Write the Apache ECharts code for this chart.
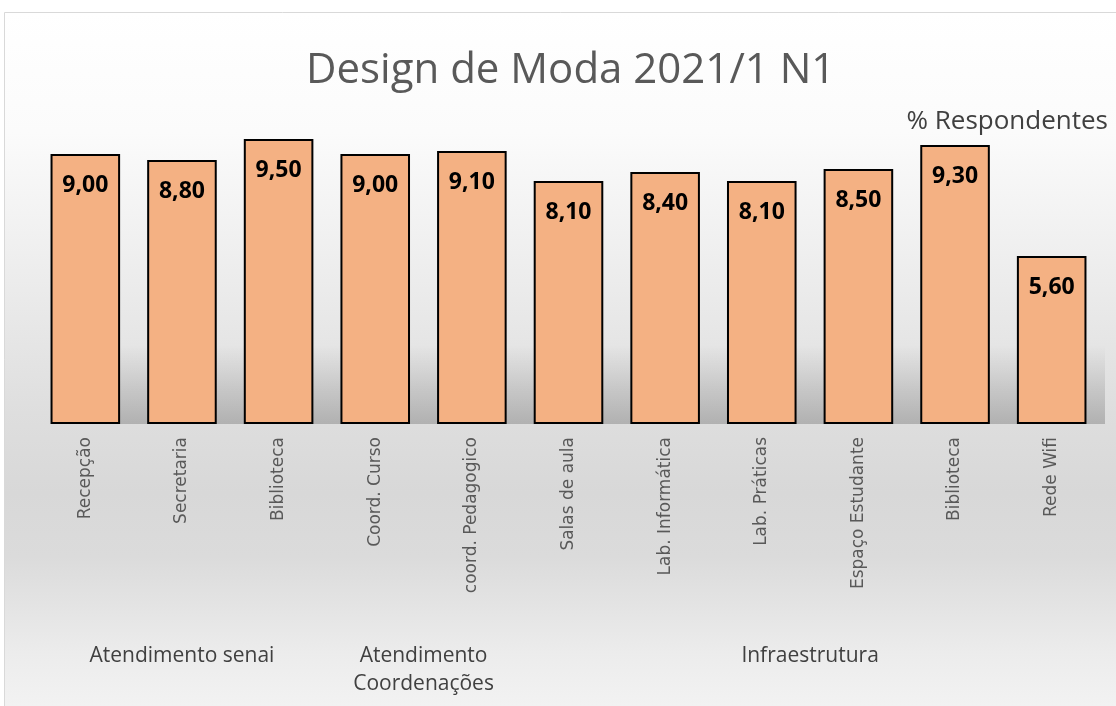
<!DOCTYPE html>
<html><head><meta charset="utf-8">
<script src="https://cdn.jsdelivr.net/npm/echarts@6/dist/echarts.min.js"></script>
<style>html,body{margin:0;padding:0;background:#fff}#c{width:1116px;height:706px}</style>
</head><body><div id="c"></div>
<script>
const categories = ['Recepção','Secretaria','Biblioteca','Coord. Curso','coord. Pedagogico','Salas de aula','Lab. Informática','Lab. Práticas','Espaço Estudante','Biblioteca','Rede Wifi'];
const values = [9.00, 8.80, 9.50, 9.00, 9.10, 8.10, 8.40, 8.10, 8.50, 9.30, 5.60];
const groupLabels = {1: 'Atendimento senai', 3.5: 'Atendimento\nCoordenações', 7.5: 'Infraestrutura'};
const titleText = 'Design de Moda 2021/1 N1';
const seriesName = '% Respondentes';

const chart = echarts.init(document.getElementById('c'));
chart.setOption({
  backgroundColor: '#ffffff',
  animation: false,
  title: {
    text: titleText, left: 301, top: 45,
    textStyle: {fontFamily: 'Open Sans', fontWeight: 'normal', fontSize: 42, color: '#595959'}
  },
  graphic: [
    {type: 'rect', z: -10, silent: true,
     shape: {x: 4.5, y: 12.5, width: 1200, height: 800},
     style: {stroke: '#d9d9d9', lineWidth: 1,
       fill: new echarts.graphic.LinearGradient(0, 0, 0, 1, [
         {offset: 0, color: '#ffffff'},
         {offset: 0.15, color: '#fbfbfb'},
         {offset: 0.30, color: '#efefef'},
         {offset: 0.50, color: '#dedede'},
         {offset: 0.60, color: '#d8d8d8'},
         {offset: 0.68, color: '#dbdbdb'},
         {offset: 0.80, color: '#ececec'},
         {offset: 0.90, color: '#f5f5f5'},
         {offset: 1, color: '#fbfbfb'}
       ])}},
    {type: 'rect', z: -9, silent: true,
     shape: {x: 60, y: 345, width: 1045, height: 79},
     style: {fill: new echarts.graphic.LinearGradient(0, 0, 0, 1, [
         {offset: 0, color: 'rgba(0,0,0,0)'},
         {offset: 0.6, color: 'rgba(0,0,0,0.12)'},
         {offset: 1, color: 'rgba(0,0,0,0.2)'}
       ])}},
    {type: 'text', right: 8, top: 109,
     style: {text: seriesName, fontFamily: 'Open Sans', fontSize: 26, fill: '#404040', fontWeight: 500}}
  ],
  grid: {left: 37, right: 16, top: 124, height: 300, containLabel: false},
  xAxis: [
    {type: 'category', data: categories,
     axisLine: {show: false}, axisTick: {show: false},
     axisLabel: {rotate: 90, interval: 0, margin: 13, fontFamily: 'DejaVu Sans', fontSize: 17, color: '#595959'}},
    {type: 'value', position: 'bottom', min: -0.5, max: 10.5, interval: 0.5, offset: 210,
     axisLine: {show: false}, axisTick: {show: false}, splitLine: {show: false},
     axisLabel: {showMinLabel: true, showMaxLabel: true, fontFamily: 'Open Sans', fontSize: 21, color: '#404040', lineHeight: 28, verticalAlign: 'top',
       formatter: v => groupLabels[v] || ''}}
  ],
  yAxis: {type: 'value', min: 0, max: 10, show: false, splitLine: {show: false}},
  series: [{
    type: 'bar', name: seriesName, data: values, xAxisIndex: 0,
    barCategoryGap: '28%',
    itemStyle: {color: '#F4B183', borderColor: '#000000', borderWidth: 2},
    label: {show: true, position: 'insideTop', distance: 20,
      formatter: p => p.value.toFixed(2).replace('.', ','),
      fontFamily: 'Open Sans', fontWeight: 'bold', fontSize: 23, color: '#000000'}
  }]
});
</script></body></html>
